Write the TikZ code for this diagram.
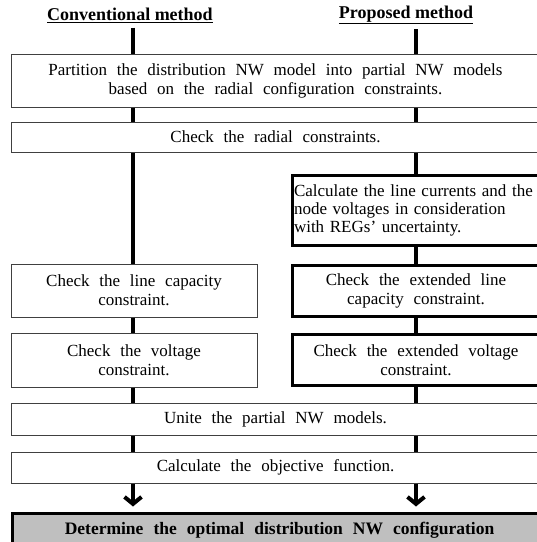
\documentclass[tikz,border=0pt]{standalone}
\usepackage{fontspec}
\setmainfont{Liberation Serif}
\newfontfamily\widefont{Liberation Serif}[WordSpace=2.3]
\usetikzlibrary{arrows.meta}
\definecolor{edge}{HTML}{404040}
\definecolor{result}{HTML}{BFBFBF}

\begin{document}
\begin{tikzpicture}[x=1pt,y=-1pt,font=\fontsize{17}{19}\selectfont,
  stepbox/.style={draw=edge,line width=1pt,fill=white,inner sep=0pt,align=center,
    font=\fontsize{17}{19}\selectfont\widefont},
  newbox/.style={draw=black,line width=3pt,fill=white,inner sep=0pt,align=center,
    font=\fontsize{17}{19}\selectfont\widefont},
  resultbox/.style={draw=black,line width=3pt,fill=result,inner sep=0pt,align=center,
    font=\fontsize{17.5}{20}\selectfont\widefont\bfseries},
  heading/.style={font=\fontsize{18}{20}\selectfont\bfseries,inner sep=1pt},
  link/.style={line width=4pt}]
  \useasboundingbox (0,0) rectangle (537,542);
  \def\full{529}
  \def\half{246}
  \def\side{248}
  \coordinate (colL) at (133,0);
  \coordinate (colR) at (416,0);
  % headings
  \node[heading] (conv) at (130,15) {\underline{Conventional method}};
  \node[heading] (prop) at (406,15) {\underline{Proposed method}};
  % common steps
  \node[stepbox,minimum width=\full,minimum height=53] (part) at (275.5,80.5)
        {Partition the distribution NW model into partial NW models\\
         based on the radial configuration constraints.};
  \node[stepbox,minimum width=\full,minimum height=30] (radial) at (275.5,137)
        {Check the radial constraints.};
  % conventional side
  \node[stepbox,minimum width=\half,minimum height=53] (lcap) at (134,290.5)
        {Check the line capacity\\ constraint.};
  \node[stepbox,minimum width=\half,minimum height=54] (volt) at (134,360)
        {Check the voltage\\ constraint.};
  % proposed side
  \node[newbox,minimum width=\side,minimum height=70,text width=244,align=left,
        font=\fontsize{17}{18}\selectfont\rmfamily] (calc) at (416,210.5)
        {Calculate the line currents and the\\
         node voltages in consideration\\
         with REGs' uncertainty.};
  \node[newbox,minimum width=\side,minimum height=51] (elcap) at (416,291)
        {Check the extended line\\ capacity constraint.};
  \node[newbox,minimum width=\side,minimum height=51] (evolt) at (416,360)
        {Check the extended voltage\\ constraint.};
  % common steps again
  \node[stepbox,minimum width=\full,minimum height=32] (unite) at (275.5,419)
        {Unite the partial NW models.};
  \node[stepbox,minimum width=\full,minimum height=31] (obj) at (275.5,467.5)
        {Calculate the objective function.};
  \node[resultbox,minimum width=534,minimum height=34] (final) at (279.5,530)
        {Determine the optimal distribution NW configuration};
  % flow lines
  \draw[link] (colL |- conv.south) ++(0,4) -- (colL |- part.north);
  \draw[link] (colR |- prop.south) ++(0,4) -- (colR |- part.north);
  \draw[link] (colL |- part.south) -- (colL |- radial.north);
  \draw[link] (colR |- part.south) -- (colR |- radial.north);
  \draw[link] (colL |- radial.south) -- (colL |- lcap.north);
  \draw[link] (colR |- radial.south) -- (colR |- calc.north);
  \draw[link] (colR |- calc.south) -- (colR |- elcap.north);
  \draw[link] (colL |- lcap.south) -- (colL |- volt.north);
  \draw[link] (colR |- elcap.south) -- (colR |- evolt.north);
  \draw[link] (colL |- volt.south) -- (colL |- unite.north);
  \draw[link] (colR |- evolt.south) -- (colR |- unite.north);
  \draw[link] (colL |- unite.south) -- (colL |- obj.north);
  \draw[link] (colR |- unite.south) -- (colR |- obj.north);
  \draw[link,-{Straight Barb[length=7pt,width=17pt]},shorten >=5pt] (colL |- obj.south) -- (colL |- final.north);
  \draw[link,-{Straight Barb[length=7pt,width=17pt]},shorten >=5pt] (colR |- obj.south) -- (colR |- final.north);
\end{tikzpicture}
\end{document}
